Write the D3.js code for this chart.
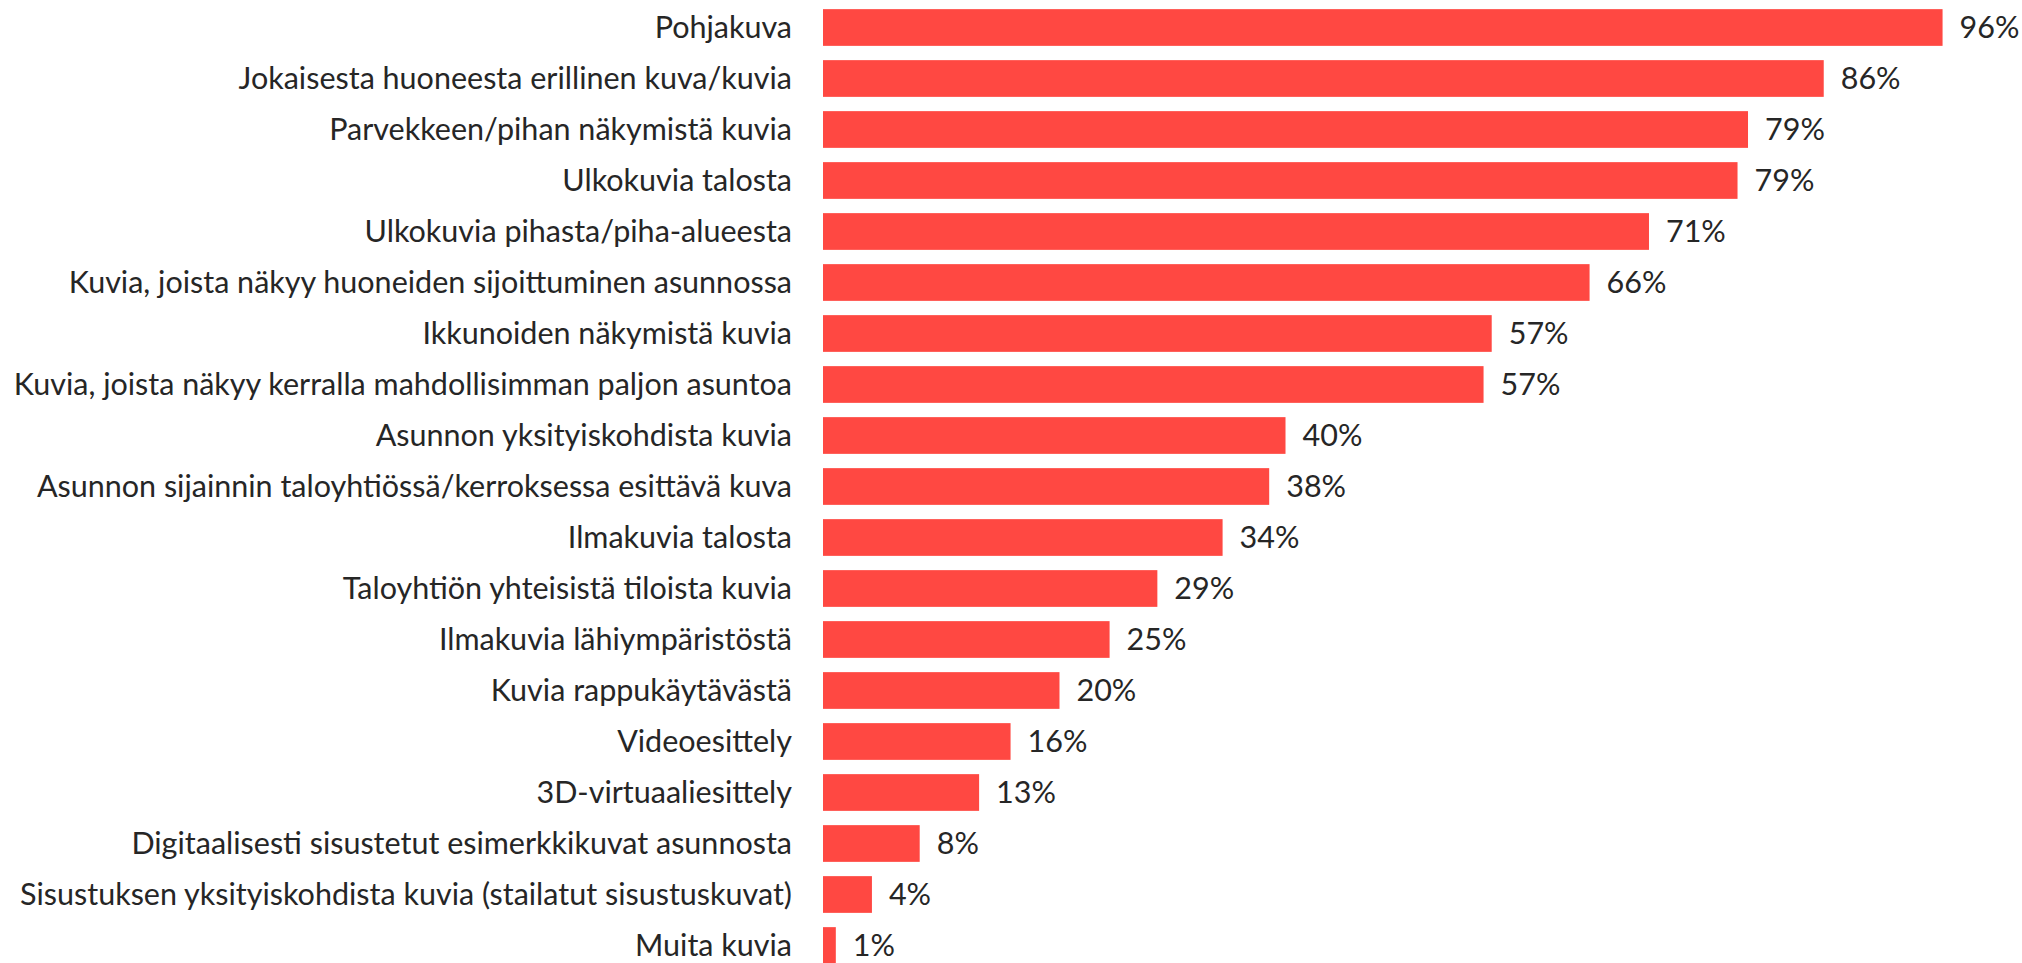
<!DOCTYPE html>
<html>
<head>
<meta charset="utf-8">
<script src="https://cdn.jsdelivr.net/npm/d3@7"></script>
<style>
  body { margin: 0; background: #fff; }
  text { font-family: Lato, "Open Sans", sans-serif; fill: #262626; }
</style>
</head>
<body>
<div id="chart"></div>
<script>
const categories = [
  'Pohjakuva',
  'Jokaisesta huoneesta erillinen kuva/kuvia',
  'Parvekkeen/pihan näkymistä kuvia',
  'Ulkokuvia talosta',
  'Ulkokuvia pihasta/piha-alueesta',
  'Kuvia, joista näkyy huoneiden sijoittuminen asunnossa',
  'Ikkunoiden näkymistä kuvia',
  'Kuvia, joista näkyy kerralla mahdollisimman paljon asuntoa',
  'Asunnon yksityiskohdista kuvia',
  'Asunnon sijainnin taloyhtiössä/kerroksessa esittävä kuva',
  'Ilmakuvia talosta',
  'Taloyhtiön yhteisistä tiloista kuvia',
  'Ilmakuvia lähiympäristöstä',
  'Kuvia rappukäytävästä',
  'Videoesittely',
  '3D-virtuaaliesittely',
  'Digitaalisesti sisustetut esimerkkikuvat asunnosta',
  'Sisustuksen yksityiskohdista kuvia (stailatut sisustuskuvat)',
  'Muita kuvia',
];
// share of respondents, %
const values = [96.1, 85.9, 79.4, 78.5, 70.9, 65.8, 57.4, 56.7, 39.7, 38.3,
  34.3, 28.7, 24.6, 20.3, 16.1, 13.4, 8.3, 4.2, 1.1];

const width = 2022, height = 963;
const margin = { left: 823, top: 2, bottom: -8 };
const fontSize = '30.5px';

const data = categories.map((c, i) => ({ name: c, value: values[i] }));

const svg = d3.select('#chart')
  .append('svg')
  .attr('width', width)
  .attr('height', height);

const x = d3.scaleLinear()
  .domain([0, 100])
  .range([margin.left, margin.left + 1165]);

const y = d3.scaleBand()
  .domain(categories)
  .range([margin.top, height - margin.bottom])
  .paddingInner(0.28)
  .paddingOuter(0.14);

svg.append('g')
  .selectAll('rect')
  .data(data)
  .join('rect')
  .attr('x', x(0))
  .attr('y', d => y(d.name))
  .attr('width', d => x(d.value) - x(0))
  .attr('height', y.bandwidth())
  .attr('fill', '#ff4842');

// category labels
svg.append('g')
  .selectAll('text')
  .data(data)
  .join('text')
  .attr('x', x(0) - 31)
  .attr('y', d => y(d.name) + y.bandwidth() / 2)
  .attr('dy', '0.35em')
  .attr('text-anchor', 'end')
  .style('font-size', fontSize)
  .text(d => d.name);

// value labels
svg.append('g')
  .selectAll('text')
  .data(data)
  .join('text')
  .attr('x', d => x(d.value) + 17)
  .attr('y', d => y(d.name) + y.bandwidth() / 2)
  .attr('dy', '0.35em')
  .style('font-size', fontSize)
  .text(d => Math.round(d.value) + '%');
</script>
</body>
</html>
